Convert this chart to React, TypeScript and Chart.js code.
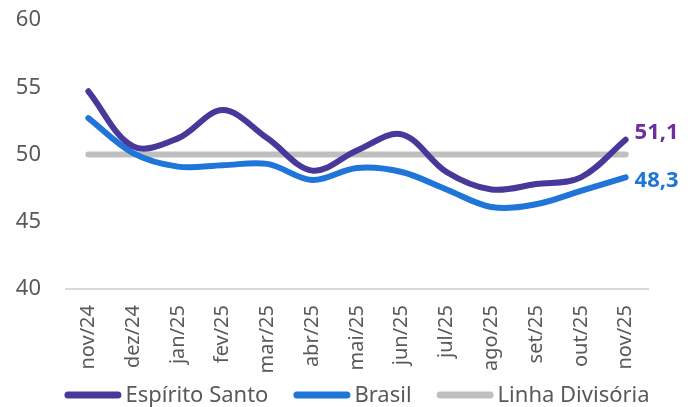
import React, { useEffect, useRef } from "react";
import { Chart, registerables } from "chart.js";

Chart.register(...registerables);

const categories = ["nov/24", "dez/24", "jan/25", "fev/25", "mar/25", "abr/25", "mai/25", "jun/25", "jul/25", "ago/25", "set/25", "out/25", "nov/25"];
const espiritoSanto = [54.7, 50.6, 51.2, 53.3, 51.2, 48.8, 50.3, 51.5, 48.7, 47.4, 47.8, 48.3, 51.1];
const brasil = [52.7, 50.1, 49.1, 49.2, 49.3, 48.1, 49.0, 48.7, 47.4, 46.1, 46.3, 47.3, 48.3];
const linhaDivisoria = [50, 50, 50, 50, 50, 50, 50, 50, 50, 50, 50, 50, 50];
const yMin = 40;
const yMax = 60;
const yStep = 5;

const FONT = "'Noto Sans', 'Open Sans', sans-serif";
const W = 695;
const H = 407;

const endLabelPlugin = {
  id: "endLabels",
  afterDatasetsDraw(chart: any) {
    const ctx = chart.ctx;
    chart.data.datasets.forEach((ds: any, i: number) => {
      if (!ds.endLabel) return;
      const meta = chart.getDatasetMeta(i);
      const pt = meta.data[meta.data.length - 1];
      if (!pt) return;
      const v = ds.data[ds.data.length - 1];
      ctx.save();
      ctx.font = `bold 22px ${FONT}`;
      ctx.fillStyle = ds.endLabel.color;
      ctx.textAlign = "left";
      ctx.textBaseline = "alphabetic";
      ctx.fillText(v.toFixed(1).replace(".", ","), pt.x + 9, pt.y + ds.endLabel.dy);
      ctx.restore();
    });
  },
};

const legendPlugin = {
  id: "customLegend",
  afterDraw(chart: any) {
    const ctx = chart.ctx;
    const fontSize = 22;
    const boxWidth = 57;
    const boxHeight = 7;
    const gap = 4;
    const itemGap = 25;
    ctx.save();
    ctx.font = `${fontSize}px ${FONT}`;
    const items = chart.data.datasets.map((ds: any) => ({
      label: ds.label,
      color: ds.borderColor,
      w: ctx.measureText(ds.label).width,
    }));
    const total =
      items.reduce((s: number, it: any) => s + boxWidth + gap + it.w, 0) + itemGap * (items.length - 1);
    let x = (chart.chartArea.left + chart.chartArea.right) / 2 - total / 2;
    const lineY = 395;
    const textY = 402;
    items.forEach((it: any) => {
      ctx.strokeStyle = it.color;
      ctx.lineWidth = boxHeight;
      ctx.lineCap = "round";
      ctx.beginPath();
      ctx.moveTo(x + boxHeight / 2, lineY);
      ctx.lineTo(x + boxWidth - boxHeight / 2, lineY);
      ctx.stroke();
      ctx.fillStyle = "#595959";
      ctx.textAlign = "left";
      ctx.textBaseline = "alphabetic";
      ctx.fillText(it.label, x + boxWidth + gap, textY);
      x += boxWidth + gap + it.w + itemGap;
    });
    ctx.restore();
  },
};

export default function App() {
  const ref = useRef<HTMLCanvasElement | null>(null);

  useEffect(() => {
    if (!ref.current) return;
    const chart = new Chart(ref.current, {
      type: "line",
      data: {
        labels: categories,
        datasets: [
          {
            label: "Espírito Santo",
            data: espiritoSanto,
            borderColor: "#48389A",
            backgroundColor: "#48389A",
            borderWidth: 6,
            tension: 0.35,
            pointRadius: 0,
            borderCapStyle: "round",
            borderJoinStyle: "round",
            endLabel: { color: "#6F2DA0", dy: -1 },
          } as any,
          {
            label: "Brasil",
            data: brasil,
            borderColor: "#1F75D8",
            backgroundColor: "#1F75D8",
            borderWidth: 6,
            tension: 0.35,
            pointRadius: 0,
            borderCapStyle: "round",
            borderJoinStyle: "round",
            endLabel: { color: "#1F75D8", dy: 10 },
          } as any,
          {
            label: "Linha Divisória",
            data: linhaDivisoria,
            borderColor: "#BFBFBF",
            backgroundColor: "#BFBFBF",
            borderWidth: 6,
            tension: 0,
            pointRadius: 0,
            borderCapStyle: "round",
          } as any,
        ],
      },
      options: {
        animation: false,
        responsive: false,
        layout: { padding: { left: 0, right: 47, top: 20, bottom: 0 } },
        plugins: {
          legend: { display: false },
          tooltip: { enabled: false },
        },
        scales: {
          x: {
            offset: true,
            grid: {
              display: true,
              drawOnChartArea: false,
              drawTicks: true,
              tickLength: 16,
              color: "rgba(0,0,0,0)",
              tickColor: "rgba(0,0,0,0)",
            },
            border: { display: true, color: "#D9D9D9", width: 2 },
            ticks: {
              color: "#595959",
              font: { family: FONT, size: 20 },
              minRotation: 90,
              maxRotation: 90,
              padding: 0,
              autoSkip: false,
            },
            afterFit(scale: any) {
              scale.height = H - 289;
            },
          },
          y: {
            min: yMin,
            max: yMax,
            grid: {
              display: true,
              drawOnChartArea: false,
              drawTicks: true,
              tickLength: 25,
              color: "rgba(0,0,0,0)",
              tickColor: "rgba(0,0,0,0)",
            },
            border: { display: false },
            ticks: {
              stepSize: yStep,
              color: "#595959",
              font: { family: FONT, size: 22 },
              padding: 0,
            },
            afterFit(scale: any) {
              scale.width = 66;
            },
          },
        },
      },
      plugins: [endLabelPlugin, legendPlugin],
    });
    return () => chart.destroy();
  }, []);

  return (
    <div style={{ position: "fixed", left: 0, top: 0, width: W, height: H, overflow: "hidden" }}>
      <canvas ref={ref} width={W} height={H} style={{ display: "block" }} />
    </div>
  );
}
